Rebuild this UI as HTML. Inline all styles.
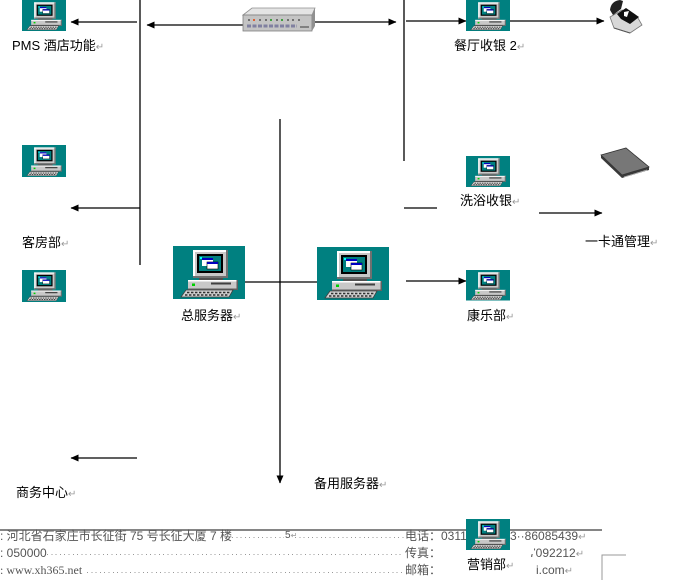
<!DOCTYPE html>
<html><head><meta charset="utf-8">
<style>
html,body{margin:0;padding:0;background:#fff;}
body{width:674px;height:580px;position:relative;overflow:hidden;font-family:"Liberation Sans","Noto Sans CJK SC",sans-serif;}
.l{position:absolute;font-size:13px;line-height:16px;white-space:nowrap;color:#000;}
.p{color:#999;font-size:10px;}
.f{position:absolute;font-size:12px;line-height:14px;white-space:nowrap;color:#555;}
.d{position:absolute;height:1px;background:repeating-linear-gradient(to right,#999 0 1px,transparent 1px 4.3px);}
.w{position:absolute;background:#fff;}
</style></head><body>

<!-- footer text -->
<div style="position:absolute;left:0;top:529px;width:602px;height:2px;background:#858585;"></div>
<div class="f" style="left:0;top:529px;">: 河北省石家庄市长征街 75 号长征大厦 7 楼</div>
<div class="d" style="left:232px;top:537px;width:52px;"></div>
<div class="f" style="left:285px;top:529px;font-size:10px;">5<span class="p" style="font-size:8px">↵</span></div>
<div class="d" style="left:295px;top:537px;width:109px;"></div>
<div class="f" style="left:405px;top:529px;">电话：0311-</div>
<div class="f" style="left:510px;top:529px;">3··86085439<span class="p">↵</span></div>

<div class="f" style="left:0;top:546px;">: 050000</div>
<div class="d" style="left:47px;top:554px;width:357px;"></div>
<div class="f" style="left:405px;top:546px;">传真：</div>
<div class="f" style="left:529px;top:546px;">7092212<span class="p">↵</span></div>

<div class="f" style="left:0;top:563px;font-family:'Liberation Serif',serif;">: www.xh365.net</div>
<div class="d" style="left:87px;top:572px;width:317px;"></div>
<div class="f" style="left:405px;top:563px;">邮箱：</div>
<div class="f" style="left:536px;top:563px;">i.com<span class="p">↵</span></div>
<div class="w" style="left:526px;top:546px;width:8px;height:8px;"></div>

<svg width="674" height="580" style="position:absolute;left:0;top:0" xmlns="http://www.w3.org/2000/svg">
<defs>
<marker id="a" viewBox="0 0 8 8" refX="7.5" refY="4" markerWidth="8" markerHeight="8" markerUnits="userSpaceOnUse" orient="auto">
<path d="M0,0.5 L8,4 L0,7.5z" fill="#000"/></marker>
<symbol id="pc" viewBox="0 0 72 53" preserveAspectRatio="none">
<rect x="0" y="0" width="72" height="53" fill="#008080"/>
<rect x="20" y="4" width="35" height="28" fill="#c8c8c8"/>
<rect x="20" y="4" width="35" height="2" fill="#fff"/>
<rect x="20" y="4" width="2" height="28" fill="#fff"/>
<rect x="53" y="4" width="2" height="28" fill="#707070"/>
<rect x="20" y="30" width="35" height="2" fill="#707070"/>
<rect x="24" y="8" width="26" height="19" fill="#000"/>
<rect x="26" y="10" width="22" height="15" fill="#008080"/>
<rect x="29" y="12" width="11" height="8" fill="#fff"/>
<rect x="29" y="12" width="11" height="2" fill="#0000c0"/>
<rect x="34" y="16" width="11" height="7" fill="#fff" stroke="#000" stroke-width="0.6"/>
<rect x="34" y="16" width="11" height="2" fill="#0000c0"/>
<rect x="27" y="11" width="2" height="2" fill="#00ffff"/>
<rect x="26" y="32" width="24" height="2" fill="#505050"/>
<rect x="15" y="34" width="50" height="10" fill="#c8c8c8"/>
<rect x="15" y="34" width="50" height="1.5" fill="#fff"/>
<rect x="15" y="42.5" width="50" height="1.5" fill="#606060"/>
<rect x="63.5" y="34" width="1.5" height="10" fill="#606060"/>
<rect x="19" y="37.5" width="3" height="2.5" fill="#00d000"/>
<rect x="38" y="36.5" width="20" height="2" fill="#404040"/>
<polygon points="8,51 13,44 60,44 56,51" fill="#d0d0d0" stroke="#404040" stroke-width="0.8"/>
<line x1="14" y1="46.5" x2="57" y2="46.5" stroke="#303030" stroke-width="1.4" stroke-dasharray="2.4 1.6"/>
<line x1="12" y1="49" x2="56" y2="49" stroke="#303030" stroke-width="1.4" stroke-dasharray="2.4 1.6"/>
</symbol>
</defs>

<g stroke="#000" stroke-width="1.3" fill="none">
<line x1="140" y1="0" x2="140" y2="265"/>
<line x1="137" y1="22" x2="71" y2="22" marker-end="url(#a)"/>
<line x1="245" y1="25" x2="147" y2="25" marker-end="url(#a)"/>
<line x1="313" y1="22" x2="396" y2="22" marker-end="url(#a)"/>
<line x1="404" y1="0" x2="404" y2="161"/>
<line x1="406" y1="21" x2="466" y2="21" marker-end="url(#a)"/>
<line x1="510" y1="21" x2="604" y2="21" marker-end="url(#a)"/>
<line x1="140" y1="208" x2="71" y2="208" marker-end="url(#a)"/>
<line x1="280" y1="119" x2="280" y2="483" marker-end="url(#a)"/>
<line x1="245" y1="282" x2="317" y2="282"/>
<line x1="404" y1="208" x2="437" y2="208"/>
<line x1="539" y1="213" x2="602" y2="213" marker-end="url(#a)"/>
<line x1="406" y1="281" x2="466" y2="281" marker-end="url(#a)"/>
<line x1="137" y1="458" x2="71" y2="458" marker-end="url(#a)"/>
</g>

<use href="#pc" x="22" y="0" width="44" height="31"/>
<use href="#pc" x="466" y="0" width="44" height="31"/>
<use href="#pc" x="22" y="145" width="44" height="32"/>
<use href="#pc" x="22" y="270" width="44" height="32"/>
<use href="#pc" x="173" y="246" width="72" height="53"/>
<use href="#pc" x="317" y="247" width="72" height="53"/>
<use href="#pc" x="466" y="156" width="44" height="31"/>
<use href="#pc" x="466" y="270" width="44" height="31"/>
<rect x="466" y="300" width="44" height="1" fill="#80c0c0"/>
<use href="#pc" x="466" y="519" width="44" height="31"/>

<!-- switch -->
<polygon points="243,15 252,8 315,8 312,15" fill="#e4e4e4" stroke="#909090" stroke-width="0.8"/>
<rect x="243" y="15" width="69" height="16" fill="#c4c4c4" stroke="#808080" stroke-width="0.8"/>
<polygon points="312,15 315,8 315,26 312,31" fill="#909090"/>
<g fill="#707070">
<rect x="248" y="19" width="2" height="2"/><rect x="253" y="19" width="2" height="2" fill="#e06030"/>
<rect x="259" y="19" width="2" height="2"/><rect x="265" y="19" width="2" height="2"/>
<rect x="270" y="19" width="2" height="2" fill="#40a040"/><rect x="276" y="19" width="2" height="2"/>
<rect x="281" y="19" width="2" height="2" fill="#40a040"/><rect x="287" y="19" width="2" height="2"/>
<rect x="292" y="19" width="2" height="2"/><rect x="298" y="19" width="2" height="2"/>
</g>
<line x1="247" y1="26" x2="297" y2="26" stroke="#8080a0" stroke-width="3" stroke-dasharray="4 1.5"/>
<rect x="300" y="26" width="9" height="2" fill="#808080"/>

<!-- printer -->
<polygon points="610,17 622,10 638,18 642,25 630,33 614,28" fill="#d8d8d8" stroke="#777" stroke-width="0.8"/>
<path d="M610,10 Q611,1 620,0 L623,1 L621,9 L613,15 Z" fill="#222"/>
<polygon points="617,14 626,8 639,17 630,24 621,19" fill="#111"/>
<polygon points="624,12 629,11 627,17 624,16" fill="#fff"/>
<line x1="614" y1="28" x2="630" y2="33" stroke="#555" stroke-width="1"/>

<!-- card reader -->
<polygon points="601,158 622,178 649,170 649,167 622,175 601,155" fill="#3a3a3a"/>
<polygon points="601,155 626,148 649,167 622,175" fill="#777" stroke="#333" stroke-width="0.8"/>
<line x1="624" y1="177" x2="647" y2="170" stroke="#bbb" stroke-width="0.7"/>

<!-- corner mark -->
<polyline points="602,580 602,555 626,555" fill="none" stroke="#999" stroke-width="1"/>
</svg>

<div class="l" style="left:12px;top:38px;">PMS 酒店功能<span class="p">↵</span></div>
<div class="l" style="left:454px;top:38px;">餐厅收银 2<span class="p">↵</span></div>
<div class="l" style="left:22px;top:235px;">客房部<span class="p">↵</span></div>
<div class="l" style="left:181px;top:308px;">总服务器<span class="p">↵</span></div>
<div class="l" style="left:460px;top:193px;">洗浴收银<span class="p">↵</span></div>
<div class="l" style="left:585px;top:234px;">一卡通管理<span class="p">↵</span></div>
<div class="l" style="left:467px;top:308px;">康乐部<span class="p">↵</span></div>
<div class="l" style="left:16px;top:485px;">商务中心<span class="p">↵</span></div>
<div class="l" style="left:314px;top:476px;">备用服务器<span class="p">↵</span></div>
<div class="l" style="left:467px;top:557px;background:#fff;padding-right:2px;">营销部<span class="p">↵</span></div>

</body></html>
